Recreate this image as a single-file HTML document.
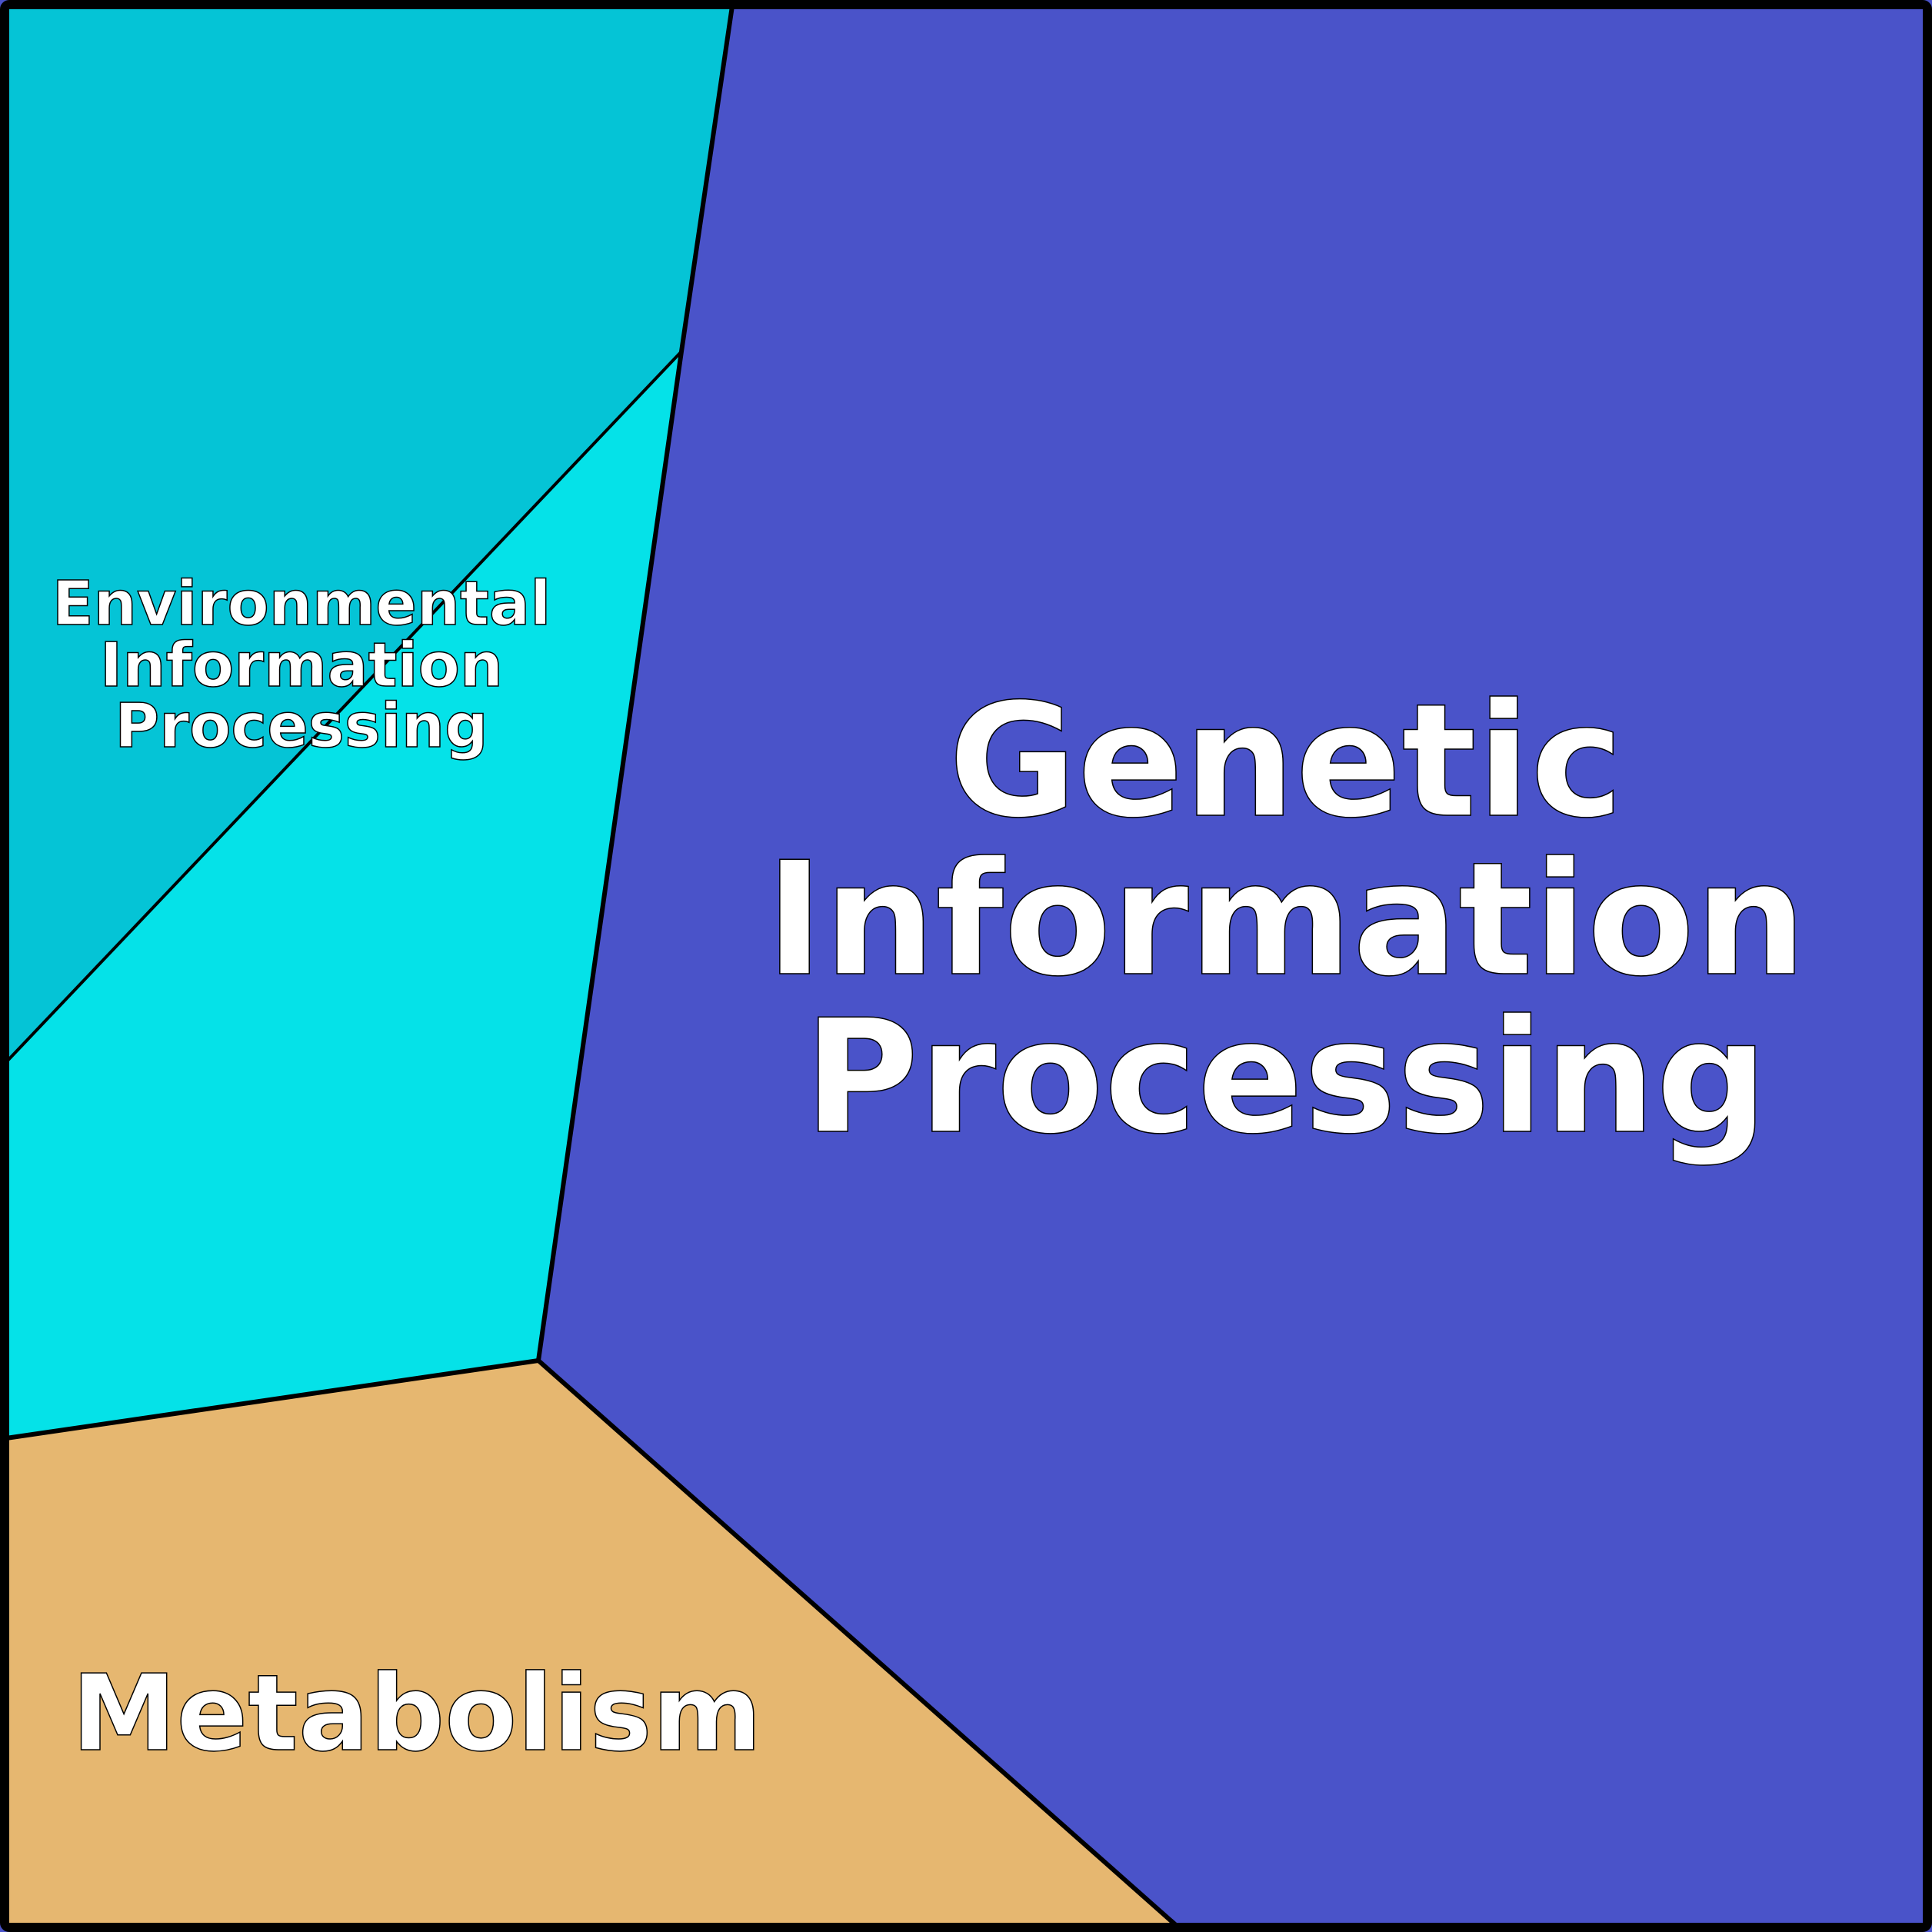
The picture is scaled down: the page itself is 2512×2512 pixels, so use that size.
<!DOCTYPE html>
<html><head><meta charset="utf-8"><style>html,body{margin:0;padding:0;background:#fff}svg{display:block}</style></head>
<body>
<svg width="2512" height="2512" viewBox="0 0 2512 2512" xmlns="http://www.w3.org/2000/svg">
<rect x="0" y="0" width="2512" height="2512" fill="#4a53c9"/>
<polygon points="8,8 952,8 886,457 8,1381" fill="#05c4d6"/>
<polygon points="886,457 700,1769 8,1870 8,1381" fill="#05e2e8"/>
<polygon points="8,1870 700,1769 1530,2504 8,2504" fill="#e6b770"/>
<polyline points="952,8 886,457 700,1769 1530,2504" fill="none" stroke="#000" stroke-width="6"/>
<polyline points="8,1870 700,1769" fill="none" stroke="#000" stroke-width="6"/>
<line x1="886" y1="457" x2="8" y2="1381" stroke="#000" stroke-width="4"/>
<rect x="6" y="6" width="2500" height="2500" rx="6" fill="none" stroke="#000" stroke-width="12"/>
<g font-family="DejaVu Sans, Liberation Sans, sans-serif" font-weight="bold" fill="#fff" stroke="#000" stroke-width="1.5" text-anchor="middle">
<text x="1672" y="1060" font-size="204">Genetic</text>
<text x="1672" y="1266" font-size="204">Information</text>
<text x="1672" y="1471" font-size="204">Processing</text>
<text x="392" y="812" font-size="79">Environmental</text>
<text x="392" y="892" font-size="79">Information</text>
<text x="392" y="971" font-size="79">Processing</text>
<text x="93" y="2275" font-size="137" text-anchor="start">Metabolism</text>
</g>
</svg>
</body></html>
